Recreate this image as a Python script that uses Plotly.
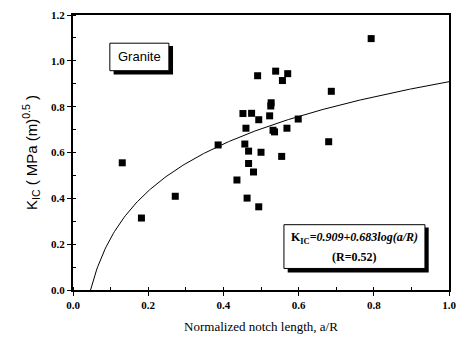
import numpy as np
import plotly.graph_objects as go

# Measured data (normalized notch length a/R, K_IC)
a_over_R = [0.131, 0.182, 0.272, 0.386, 0.436, 0.452, 0.475, 0.494, 0.460, 0.457,
            0.467, 0.500, 0.467, 0.480, 0.463, 0.494, 0.523, 0.526, 0.527, 0.532,
            0.536, 0.555, 0.569, 0.599, 0.680, 0.491, 0.539, 0.557, 0.571, 0.687,
            0.793]
k_ic = [0.555, 0.314, 0.409, 0.633, 0.480, 0.770, 0.771, 0.743, 0.706, 0.637,
        0.606, 0.601, 0.552, 0.515, 0.401, 0.363, 0.760, 0.803, 0.817, 0.697,
        0.690, 0.583, 0.706, 0.746, 0.647, 0.935, 0.955, 0.914, 0.944, 0.867,
        1.097]

# Fit stated on the chart: K_IC = 0.909 + 0.683 log(a/R)
fit_a = 0.909
fit_b = 0.683
x0 = 10 ** (-fit_a / fit_b)
xf = np.linspace(x0, 1.0, 300)
yf = fit_a + fit_b * np.log10(xf)

x_ticks = [0.0, 0.2, 0.4, 0.6, 0.8, 1.0]
y_ticks = [0.0, 0.2, 0.4, 0.6, 0.8, 1.0, 1.2]

fig = go.Figure()
fig.add_trace(go.Scatter(x=xf, y=yf, mode="lines",
                         line=dict(color="black", width=1), showlegend=False,
                         hoverinfo="skip"))
fig.add_trace(go.Scatter(x=a_over_R, y=k_ic, mode="markers",
                         marker=dict(symbol="square", size=7, color="black"),
                         showlegend=False))

serif = "Liberation Serif, Times New Roman, serif"
sans = "Liberation Sans, Arial, sans-serif"

axis_common = dict(showline=True, linecolor="black", linewidth=2, mirror=True,
                   showgrid=False, zeroline=False, ticks="outside", ticklen=4,
                   tickwidth=1, tickcolor="black", tickformat=".1f",
                   tickfont=dict(family=serif, size=11, color="black", weight="bold"),
                   minor=dict(ticks="inside", ticklen=3, tickcolor="black",
                              dtick=0.1, showgrid=False))

fig.update_xaxes(range=[0, 1.0], tickvals=x_ticks, **axis_common,
                 title=dict(text="Normalized notch length, a/R",
                            font=dict(family=serif, size=13, color="black"),
                            standoff=12))
fig.update_yaxes(range=[0, 1.2], tickvals=y_ticks, **axis_common,
                 title=dict(text="K<sub>IC</sub> ( MPa (m)<sup>0.5</sup> )",
                            font=dict(family=sans, size=15, color="black"),
                            standoff=10))

shapes = []
# Granite label box with shadow
shapes.append(dict(type="rect", xref="x", yref="y", x0=0.108, x1=0.266,
                   y0=0.940, y1=1.065, fillcolor="black", line=dict(width=0)))
shapes.append(dict(type="rect", xref="x", yref="y", x0=0.098, x1=0.255,
                   y0=0.957, y1=1.077, fillcolor="white",
                   line=dict(color="black", width=1)))
# Equation box with shadow
shapes.append(dict(type="rect", xref="x", yref="y", x0=0.571, x1=0.946,
                   y0=0.076, y1=0.273, fillcolor="black", line=dict(width=0)))
shapes.append(dict(type="rect", xref="x", yref="y", x0=0.561, x1=0.936,
                   y0=0.094, y1=0.285, fillcolor="white",
                   line=dict(color="black", width=1)))
fig.update_layout(shapes=shapes)

fig.add_annotation(x=0.1765, y=1.017, xref="x", yref="y", text="Granite",
                   showarrow=False, font=dict(family=sans, size=13, color="black"))
fig.add_annotation(x=0.7485, y=0.225, xref="x", yref="y",
                   text="K<sub>IC</sub>=<i>0.909+0.683log(a/R)</i>",
                   showarrow=False, font=dict(family=serif, size=12, color="black",
                                              weight="bold"))
fig.add_annotation(x=0.7485, y=0.145, xref="x", yref="y", text="(R=0.52)",
                   showarrow=False, font=dict(family=serif, size=12, color="black",
                                              weight="bold"))

fig.update_layout(width=465, height=341,
                  margin=dict(l=73, r=9, t=10, b=49),
                  paper_bgcolor="white", plot_bgcolor="white")

fig.write_html("out.html")
